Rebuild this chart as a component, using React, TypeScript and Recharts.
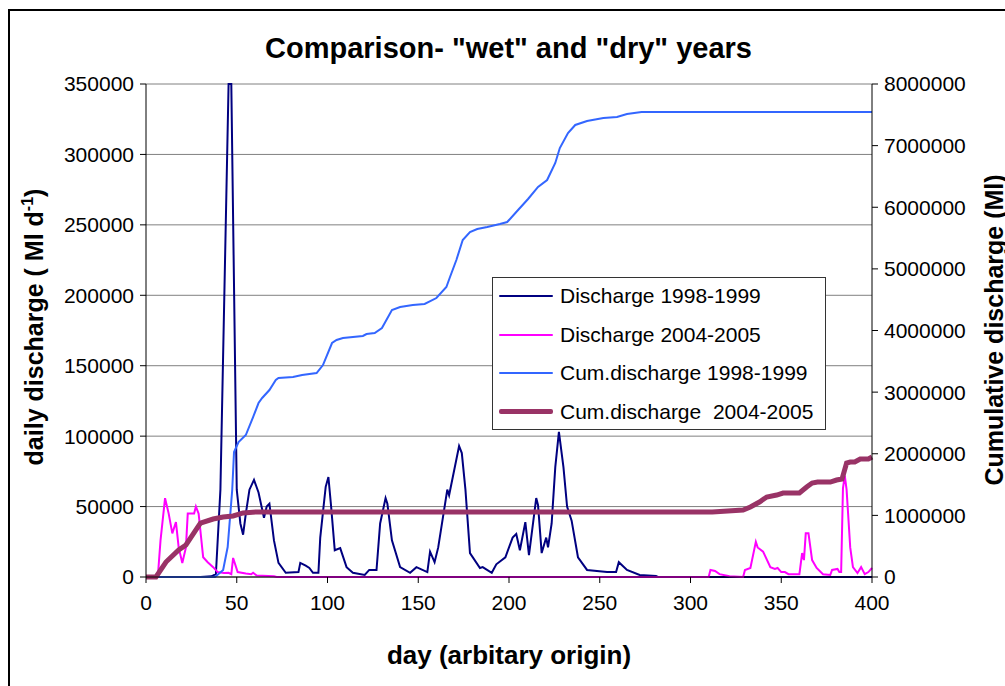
import React from "react";
import { LineChart, Line, XAxis, YAxis, CartesianGrid, Legend } from "recharts";

// day numbers and readings
const d98Days = [0, 30, 36, 38.5, 41, 45.5, 47, 50, 52, 53.5, 55, 57, 59.5, 62, 65, 66.5, 68, 70.5, 73, 77, 84, 85, 88, 90, 92, 95, 96, 99, 100.5, 102, 104, 107, 110.5, 114, 120.5, 123, 127, 129, 132, 133, 135.5, 140, 145.5, 149, 155, 156.5, 159, 161, 166, 167, 172.5, 174, 176, 178.5, 184, 185.5, 190.5, 193, 198, 202, 204, 206, 209, 211, 215, 216, 218, 220.5, 221.5, 223.5, 225.5, 227.5, 230, 232, 234.5, 238, 243, 254, 259, 260.5, 265, 272, 281, 282, 400];
const d98Values = [0, 0, 500, 2000, 62000, 350000, 350000, 62000, 38000, 30000, 45000, 62000, 69000, 60000, 42000, 50000, 52000, 26000, 10000, 3000, 3500, 10000, 8000, 6400, 3000, 3000, 28000, 64000, 71000, 50000, 19000, 20500, 7000, 3000, 1400, 5000, 5000, 38000, 56000, 52000, 26000, 7000, 3000, 7000, 3500, 18000, 10500, 21000, 62000, 58000, 93000, 88000, 62000, 17000, 6400, 7000, 3000, 9000, 14000, 28000, 30500, 19000, 39000, 15500, 56000, 51000, 17000, 28000, 21000, 38000, 78000, 103000, 78000, 50000, 40000, 14000, 5000, 3500, 3500, 10500, 5000, 1400, 700, 0, 0];

const d04Days = [0, 6.5, 8, 10.5, 12.5, 14.5, 16.5, 18, 20, 22, 23, 26.5, 27.5, 29, 31.5, 34, 37, 39.5, 43, 45.5, 47, 48, 50.5, 55, 58, 59, 61, 70.5, 72, 310, 311, 313.5, 316, 321.5, 329, 330, 333, 336, 337, 340, 344, 346.5, 348, 350, 352, 354, 360, 361.5, 362.5, 363.5, 365, 367, 369.5, 373, 377, 378, 381, 382, 383, 384, 385, 386, 388, 389.5, 392, 394, 396, 398, 400];
const d04Values = [0, 0, 26000, 56000, 45000, 31000, 39000, 21000, 10000, 21000, 45000, 45000, 50000, 45000, 14000, 10500, 7000, 3500, 2800, 3000, 2000, 13500, 3500, 2500, 2000, 3000, 1000, 500, 0, 0, 5000, 4300, 2000, 500, 0, 5000, 6400, 25000, 21000, 18000, 7000, 5700, 6400, 3500, 3500, 2000, 2000, 17000, 12000, 31000, 31000, 12000, 6400, 2000, 1400, 5000, 5700, 3500, 3500, 63000, 72000, 62000, 21000, 7000, 2800, 7000, 2000, 3500, 6400];

const cum98Days = [0, 38, 42.5, 45, 47.5, 48.5, 51, 55, 59, 62, 64, 68, 71.5, 73, 81, 86, 94, 97.5, 102.5, 105, 108.5, 119.5, 121.5, 126, 130, 135.5, 140, 147, 153.5, 160, 165.5, 167.5, 171, 174.5, 178.5, 182.5, 188, 195, 199, 205, 210.5, 216, 221, 225.5, 228, 232.5, 236.5, 243, 252, 259.5, 265, 273, 400];
const cum98Values = [0, 0, 114000, 487000, 1412000, 2028000, 2190000, 2304000, 2596000, 2823000, 2905000, 3034000, 3197000, 3229000, 3245000, 3278000, 3310000, 3440000, 3797000, 3846000, 3878000, 3911000, 3943000, 3960000, 4040000, 4333000, 4381000, 4414000, 4430000, 4527000, 4706000, 4868000, 5144000, 5468000, 5598000, 5647000, 5680000, 5728000, 5760000, 5955000, 6134000, 6329000, 6442000, 6718000, 6961000, 7205000, 7335000, 7400000, 7448000, 7465000, 7513000, 7546000, 7546000];

const cum04Days = [0, 5.5, 11, 18, 22, 27.5, 30, 37, 42.5, 48, 53.5, 60.5, 312, 329, 333, 338, 342, 347.5, 351, 360, 364, 367, 370, 377, 380.5, 383.5, 386, 388, 390.5, 393.5, 398, 400];
const cum04Values = [0, 0, 243000, 438000, 520000, 763000, 876000, 941000, 974000, 990000, 1040000, 1055000, 1055000, 1087000, 1136000, 1217000, 1298000, 1330000, 1363000, 1363000, 1460000, 1525000, 1540000, 1540000, 1574000, 1590000, 1850000, 1866000, 1866000, 1915000, 1915000, 1947000];

const dayTicks = [0, 50, 100, 150, 200, 250, 300, 350, 400];
const dailyTicks = [0, 50000, 100000, 150000, 200000, 250000, 300000, 350000];
const cumTicks = [0, 1000000, 2000000, 3000000, 4000000, 5000000, 6000000, 7000000, 8000000];

const seriesNames = ["Discharge 1998-1999", "Discharge 2004-2005", "Cum.discharge 1998-1999", "Cum.discharge  2004-2005"];

const zip = (days: number[], vals: number[]) => days.map((day, i) => ({ day, v: vals[i] }));

const FONT = '"Liberation Sans", Arial, sans-serif';

function LegendBox(props: any) {
  const items = [...(props.payload || [])].sort(
    (a: any, b: any) => seriesNames.indexOf(a.value) - seriesNames.indexOf(b.value)
  );
  return (
    <div style={{ border: "1px solid #333", background: "#fff", width: 334, height: 153, boxSizing: "border-box", fontFamily: FONT, fontSize: 21 }}>
      {items.map((it: any, i: number) => (
        <div key={i} style={{ position: "absolute", left: 0, top: 19 + i * 38.5 - 12, height: 24, display: "flex", alignItems: "center" }}>
          <div style={{ marginLeft: 7, width: 54, height: it.value === seriesNames[3] ? 5 : 2, background: it.color, borderRadius: 2 }} />
          <span style={{ marginLeft: 7, whiteSpace: "pre", color: "#000" }}>{it.value}</span>
        </div>
      ))}
    </div>
  );
}

export default function App() {
  const tick = { fill: "#000", fontSize: 21, fontFamily: FONT };
  return (
    <div style={{ position: "fixed", left: 0, top: 0, width: 1005, height: 686, overflow: "hidden", background: "#fff", fontFamily: FONT }}>
      <div style={{ position: "absolute", left: 8, top: 9, width: 1100, height: 800, borderLeft: "2px solid #000", borderTop: "2px solid #000" }} />
      <div style={{ position: "absolute", left: 0, width: 1017, top: 33, textAlign: "center", fontWeight: "bold", fontSize: 29, lineHeight: "30px" }}>
        Comparison- "wet" and "dry" years
      </div>
      <div style={{ position: "absolute", left: 34, top: 327, transform: "translate(-50%, -50%) rotate(-90deg)", whiteSpace: "nowrap", fontWeight: "bold", fontSize: 25 }}>
        daily discharge ( Ml d<sup style={{ fontSize: 16 }}>-1</sup>)
      </div>
      <div style={{ position: "absolute", left: 994, top: 330, transform: "translate(-50%, -50%) rotate(-90deg)", whiteSpace: "nowrap", fontWeight: "bold", fontSize: 25 }}>
        Cumulative discharge (Ml)
      </div>
      <div style={{ position: "absolute", left: 0, width: 1018, top: 640, textAlign: "center", fontWeight: "bold", fontSize: 26, lineHeight: "30px" }}>
        day (arbitary origin)
      </div>
      <div style={{ position: "absolute", left: 0, top: 0 }}>
        <LineChart width={1005} height={686} margin={{ top: 84, right: 53, bottom: 69, left: 66 }}>
          <CartesianGrid yAxisId="l" vertical={false} stroke="#808080" strokeWidth={1} />
          <XAxis type="number" dataKey="day" domain={[0, 400]} ticks={dayTicks} height={40} tickSize={6} tickMargin={12} stroke="#000" tick={tick} allowDuplicatedCategory={false} />
          <YAxis yAxisId="l" domain={[0, 350000]} ticks={dailyTicks} width={80} tickSize={6} tickMargin={6} stroke="#000" tick={tick} />
          <YAxis yAxisId="r" orientation="right" domain={[0, 8000000]} ticks={cumTicks} width={80} tickSize={6} tickMargin={6} stroke="#000" tick={tick} />
          <Line yAxisId="l" data={zip(d98Days, d98Values)} dataKey="v" name={seriesNames[0]} stroke="#000080" strokeWidth={2} dot={false} type="linear" isAnimationActive={false} />
          <Line yAxisId="l" data={zip(d04Days, d04Values)} dataKey="v" name={seriesNames[1]} stroke="#FF00FF" strokeWidth={2} dot={false} type="linear" isAnimationActive={false} />
          <Line yAxisId="r" data={zip(cum98Days, cum98Values)} dataKey="v" name={seriesNames[2]} stroke="#3366FF" strokeWidth={2} dot={false} type="linear" isAnimationActive={false} />
          <Line yAxisId="r" data={zip(cum04Days, cum04Values)} dataKey="v" name={seriesNames[3]} stroke="#993366" strokeWidth={5} dot={false} type="linear" isAnimationActive={false} />
          <Legend layout="vertical" align="center" verticalAlign="middle" content={<LegendBox />} wrapperStyle={{ left: 492, top: 277, width: 334, height: 153 }} />
        </LineChart>
      </div>
    </div>
  );
}
